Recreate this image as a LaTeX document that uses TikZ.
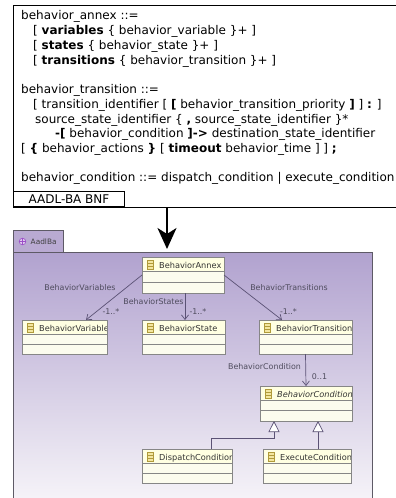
\documentclass[tikz,border=0pt]{standalone}
\usepackage{fontspec}
\setmainfont{DejaVu Sans}
\usetikzlibrary{arrows.meta,calc}
\definecolor{pkgtop}{HTML}{B1A2CF}
\definecolor{pkgbot}{HTML}{F7F5F9}
\definecolor{tabfill}{HTML}{B9AAD2}
\definecolor{pkgborder}{HTML}{5E5A66}
\definecolor{hdrfill}{HTML}{FFFFE2}
\definecolor{cmpfill}{HTML}{FCFCEE}
\definecolor{boxline}{HTML}{868686}
\definecolor{edgecol}{HTML}{5B5275}
\definecolor{lblcol}{HTML}{4F4C5E}
\definecolor{iconfill}{HTML}{F3E6A0}
\definecolor{iconline}{HTML}{B09A3A}
\definecolor{pkgicon}{HTML}{9B4FC8}
\tikzset{
  bnfline/.style={anchor=base west, inner sep=0pt, font=\fontsize{12}{15}\selectfont},
  classnode/.style={inner sep=0pt, outer sep=0pt, anchor=north west},
  cname/.style={anchor=base west, inner sep=0pt, font=\fontsize{8.2}{10}\selectfont, text=black!80},
  elabel/.style={inner sep=0pt, font=\fontsize{7.9}{9}\selectfont, text=lblcol},
  assoc/.style={draw=edgecol, line width=0.7pt, -{Straight Barb[length=4.5pt,width=7pt]}},
  gener/.style={draw=edgecol, line width=0.7pt, -{Triangle[open, length=11pt, width=11pt, fill=white]}},
}
\newcommand\classbox[6]{%
  \node[classnode, minimum width={(#4-#2)*1pt}, minimum height={(#5-#3)*1pt}] (#1) at (#2,#3) {};
  \fill[hdrfill] (#2,#3) rectangle (#4,#3+14.5);
  \fill[cmpfill] (#2,#3+14.5) rectangle (#4,#5);
  \draw[boxline, line width=0.6pt] (#2,#3+14.5) -- (#4,#3+14.5) (#2,{(#3+14.5+#5)/2}) -- (#4,{(#3+14.5+#5)/2});
  \draw[iconline, fill=iconfill, line width=0.5pt] (#2+5,#3+3) rectangle (#2+11,#3+12) (#2+5,#3+6) -- (#2+11,#3+6) (#2+5,#3+9) -- (#2+11,#3+9);
  \begin{scope}
    \clip (#2,#3) rectangle (#4,#5);
    \node[cname] at (#2+17,#3+11) {#6};
  \end{scope}
  \draw[boxline, line width=0.8pt] (#1.north west) rectangle (#1.south east);
}
\begin{document}
\begin{tikzpicture}[x=1pt,y=-1pt]
\path[use as bounding box] (0,0) rectangle (396,498);
\clip (0,0) rectangle (396,498);
% ---------- BNF box
\node[draw, line width=1.2pt, minimum width=420pt, minimum height=202pt, anchor=north west, inner sep=0pt] (bnf) at (13,5) {};
\node[draw, line width=1pt, minimum width=111pt, minimum height=15pt, anchor=south west, inner sep=0pt, font=\fontsize{12}{15}\selectfont] (tab) at (13,207) {AADL-BA BNF};
\node[bnfline] (l1) at (21,19) {behavior\_annex ::=};
\node[bnfline] (l2) at (33,34) {[ \textbf{variables} \{ behavior\_variable \}+ ]};
\node[bnfline] (l3) at (33,49) {[ \textbf{states} \{ behavior\_state \}+ ]};
\node[bnfline] (l4) at (33,64) {[ \textbf{transitions} \{ behavior\_transition \}+ ]};
\node[bnfline] (l5) at (21,93.5) {behavior\_transition ::=};
\node[bnfline] (l6) at (33,108.5) {[ transition\_identifier [ \textbf{[} behavior\_transition\_priority \textbf{]} ] \textbf{:} ]};
\node[bnfline] (l7) at (35,123.5) {source\_state\_identifier \{ \textbf{,} source\_state\_identifier \}*};
\node[bnfline] (l8) at (55,137.5) {\textbf{-[} behavior\_condition \textbf{]->} destination\_state\_identifier};
\node[bnfline] (l9) at (21,152) {[ \textbf{\{} behavior\_actions \textbf{\}} [ \textbf{timeout} behavior\_time ] ] \textbf{;}};
\node[bnfline] (l10) at (21,181) {behavior\_condition ::= dispatch\_condition | execute\_condition};
% ---------- package frame
\shade[top color=pkgtop, bottom color=pkgbot] (13,252) rectangle (372,505);
\draw[pkgborder, line width=0.8pt] (13,252) rectangle (372,505);
\draw[pkgborder, line width=0.8pt, fill=tabfill] (13,230) rectangle (63,252);
\draw[pkgicon, line width=0.6pt, fill=pkgicon!30] (22.5,241.5) circle (3.3);
\draw[pkgicon, line width=0.6pt] (19.2,241.5) -- (25.8,241.5) (22.5,238.2) -- (22.5,244.8);
\node[anchor=base west, inner sep=0pt, font=\fontsize{7.4}{9}\selectfont, text=black!75] (pkgname) at (30.5,244.5) {AadlBa};
% ---------- big arrow
\coordinate (tip) at (167,249);
\draw[line width=1.8pt, -{Stealth[length=21pt, width=19pt, inset=6pt]}] (bnf.south -| tip) -- (tip);
% ---------- classes
\classbox{an}{142}{257}{224}{293}{BehaviorAnnex}
\classbox{bv}{22}{320}{107}{354}{BehaviorVariable}
\classbox{bs}{142}{320}{225}{354}{BehaviorState}
\classbox{bt}{259}{320}{352}{354}{BehaviorTransition}
\classbox{bc}{260}{386}{352}{421}{\itshape BehaviorCondition}
\classbox{dc}{142}{449}{232}{483}{DispatchCondition}
\classbox{ec}{263}{449}{351}{483}{ExecuteCondition}
% ---------- associations
\draw[assoc] (an.west) -- ([xshift=21.5pt]bv.north);
\draw[assoc] ([xshift=2pt]an.south) -- ([xshift=1.5pt]bs.north);
\draw[assoc] (an.east) -- ([xshift=-23.5pt]bt.north);
\draw[assoc] (bt.south) -- (bc.north);
\node[elabel] (lv) at (80,288) {BehaviorVariables};
\node[elabel] (ls) at (153.5,301.5) {BehaviorStates};
\node[elabel] (lt) at (289,288) {BehaviorTransitions};
\node[elabel] (lc) at (264.5,367) {BehaviorCondition};
\node[elabel] (mv) at (111,312) {-1..*};
\node[elabel] (ms) at (198,312) {-1..*};
\node[elabel] (mt) at (288.5,312) {-1..*};
\node[elabel] (mc) at (319.5,377) {0..1};
% ---------- generalizations
\draw[gener] ([xshift=-21pt]dc.north east) |- (274,438) -- ([xshift=14pt]bc.south west);
\draw[gener] ([xshift=11pt]ec.north) -- ([xshift=58pt]bc.south west);
\end{tikzpicture}
\end{document}
